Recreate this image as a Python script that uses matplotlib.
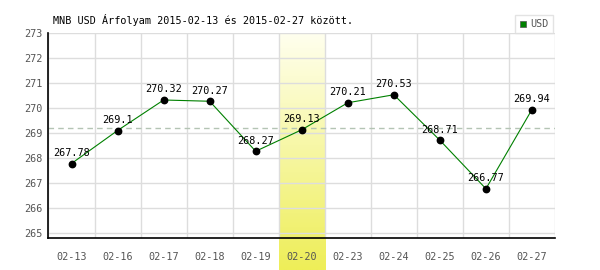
import numpy as np
import matplotlib
matplotlib.use("Agg")
import matplotlib.pyplot as plt
from matplotlib.lines import Line2D

dates = ["02-13", "02-16", "02-17", "02-18", "02-19", "02-20", "02-23", "02-24", "02-25", "02-26", "02-27"]
values = [267.78, 269.1, 270.32, 270.27, 268.27, 269.13, 270.21, 270.53, 268.71, 266.77, 269.94]
yticks = [265, 266, 267, 268, 269, 270, 271, 272, 273]
highlight = "02-20"
title = "MNB USD Árfolyam 2015-02-13 és 2015-02-27 között."
series_name = "USD"

plt.rcParams['font.family'] = ['DejaVu Sans Mono', 'DejaVu Sans']

fig = plt.figure(figsize=(6, 2.7), dpi=100)
ax = fig.add_axes([48.5/600, 1-238/270, (555-48.5)/600, (238-33)/270])

x = np.arange(len(dates))
ymin, ymax = 264.8, 273.0

# highlight band (gradient, extending below axes)
hi = dates.index(highlight)
grad = np.linspace(0, 1, 100)[:, None]
top = np.array([255, 255, 238]) / 255
bot = np.array([238, 238, 88]) / 255
img = top[None, None, :] * (1 - grad[:, :, None]) + bot[None, None, :] * grad[:, :, None]
ybot_ext = ymin - 32 / 25
ax.imshow(img, extent=(hi - 0.5, hi + 0.5, ybot_ext, ymax), aspect='auto',
          origin='upper', clip_on=False, zorder=0)

# grid
for yv in yticks:
    ax.axhline(yv, color='#dddddd', lw=1, zorder=1)
for b in np.arange(len(dates) + 1) - 0.5:
    ax.axvline(b, color='#dddddd', lw=1, zorder=1)

avg = np.mean(values)
ax.axhline(avg, color='#b4c4b4', lw=1, ls=(0, (4, 3)), zorder=2)

ax.plot(x, values, color='#008000', lw=0.8, zorder=3)
ax.plot(x, values, 'o', color='black', ms=4.6, zorder=4)

for xi, v in zip(x, values):
    ax.annotate(f"{v:g}", (xi, v), xytext=(0, 4), textcoords='offset points',
                ha='center', va='bottom', fontsize=7.3, color='black', zorder=5)

ax.set_xlim(-0.5, len(dates) - 0.5)
ax.set_ylim(ymin, ymax)
ax.set_xticks(x)
ax.set_xticklabels(dates)
ax.set_yticks(yticks)
ax.tick_params(axis='both', length=0, labelsize=7.3, colors='#555555')
ax.tick_params(axis='x', pad=10)
ax.tick_params(axis='y', pad=4)
for s in ['top', 'right']:
    ax.spines[s].set_visible(False)
for s in ['left', 'bottom']:
    ax.spines[s].set_color('black')
    ax.spines[s].set_linewidth(1.2)
ax.set_facecolor('white')

fig.text(53/600, 1-20/270, title, fontsize=7.3, ha='left', va='center', color='black')

handle = Line2D([], [], marker='s', ls='', color='#008000', markeredgecolor='#555555',
                markeredgewidth=0.5, ms=5)
leg = fig.legend([handle], [series_name], loc='upper right',
                 bbox_to_anchor=(553/600, 1-15/270), fontsize=7.3, frameon=True,
                 fancybox=False, handlelength=0.8, handletextpad=0.3,
                 borderpad=0.4, borderaxespad=0)
leg.get_frame().set_edgecolor('#dddddd')
leg.get_frame().set_linewidth(1)
for t in leg.get_texts():
    t.set_color('#555555')

fig.savefig("out.png", dpi=100)
